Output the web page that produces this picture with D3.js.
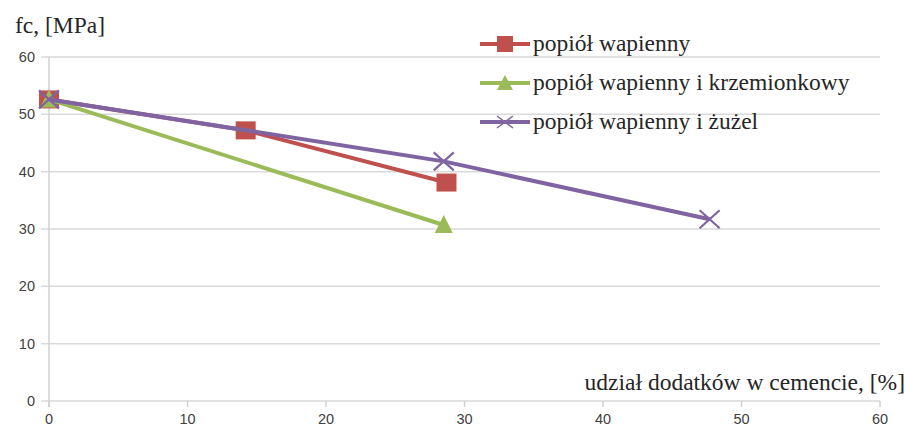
<!DOCTYPE html>
<html><head><meta charset="utf-8">
<script src="https://cdn.jsdelivr.net/npm/d3@7"></script>
<style>body{margin:0;background:#fff}svg{display:block}</style>
</head><body>
<svg id="c" width="905" height="427"></svg>
<script>
const xTicks = [0, 10, 20, 30, 40, 50, 60];
const yTicks = [0, 10, 20, 30, 40, 50, 60];
const seriesNames = ["popiół wapienny", "popiół wapienny i krzemionkowy", "popiół wapienny i żużel"];
const redX = [0, 14.2, 28.7];
const redY = [52.6, 47.2, 38.1];
const greenX = [0, 28.5];
const greenY = [52.6, 30.7];
const purpleX = [0, 28.5, 47.7];
const purpleY = [52.6, 41.8, 31.7];
const colors = ["#c0504d", "#9bbb59", "#8064a2"];
const markers = ["square", "triangle", "x"];

const svg = d3.select("#c");
const x = d3.scaleLinear().domain([0, 60]).range([49, 880]);
const y = d3.scaleLinear().domain([0, 60]).range([401, 57]);
const serif = "Liberation Serif, Times New Roman, serif";
const sans = "Liberation Sans, Arial, sans-serif";

svg.append("g").selectAll("line").data(yTicks).join("line")
  .attr("x1", 41).attr("x2", 880).attr("y1", d => y(d)).attr("y2", d => y(d))
  .attr("stroke", "#d9d9d9").attr("stroke-width", 1.5);
svg.append("line").attr("x1", x(0)).attr("x2", x(0)).attr("y1", y(60)).attr("y2", y(0) + 6)
  .attr("stroke", "#d0d0d0").attr("stroke-width", 1.5);
svg.append("g").selectAll("line").data(xTicks).join("line")
  .attr("x1", d => x(d)).attr("x2", d => x(d)).attr("y1", y(0)).attr("y2", y(0) + 6)
  .attr("stroke", "#d0d0d0").attr("stroke-width", 1.5);
svg.append("g").selectAll("text").data(yTicks).join("text")
  .attr("x", 35).attr("y", d => y(d) + 5).attr("text-anchor", "end")
  .attr("font-family", sans).attr("font-size", 14.5).attr("fill", "#404040")
  .text(d => d);
svg.append("g").selectAll("text").data(xTicks).join("text")
  .attr("x", d => x(d)).attr("y", 424).attr("text-anchor", "middle")
  .attr("font-family", sans).attr("font-size", 14.5).attr("fill", "#404040")
  .text(d => d);
svg.append("text").attr("x", 15).attr("y", 33).attr("font-family", serif)
  .attr("font-size", 23.5).attr("fill", "#262626").text("fc, [MPa]");
svg.append("text").attr("x", 905).attr("y", 390).attr("text-anchor", "end").attr("font-family", serif)
  .attr("font-size", 23.5).attr("fill", "#262626").text("udział dodatków w cemencie, [%]");

const data = [
  redX.map((v, i) => [v, redY[i]]),
  greenX.map((v, i) => [v, greenY[i]]),
  purpleX.map((v, i) => [v, purpleY[i]])
];
const line = d3.line().x(d => x(d[0])).y(d => y(d[1]));

function drawMarker(g, type, cx, cy, col) {
  if (type === "square") {
    g.append("rect").attr("x", cx - 10).attr("y", cy - 9).attr("width", 20).attr("height", 18).attr("fill", col);
  } else if (type === "triangle") {
    g.append("path").attr("d", `M${cx},${cy - 10}L${cx + 9},${cy + 8}L${cx - 9},${cy + 8}Z`).attr("fill", col);
  } else {
    g.append("path").attr("d", `M${cx - 10},${cy - 9}L${cx + 10},${cy + 9}M${cx + 10},${cy - 9}L${cx - 10},${cy + 9}`)
      .attr("stroke", col).attr("stroke-width", 2.2).attr("fill", "none");
  }
}

data.forEach((pts, i) => {
  const g = svg.append("g");
  g.append("path").datum(pts).attr("d", line).attr("fill", "none").attr("stroke", colors[i]).attr("stroke-width", 4);
  pts.forEach(p => drawMarker(g, markers[i], x(p[0]), y(p[1]), colors[i]));
});

const legY = [44, 83, 122];
seriesNames.forEach((name, i) => {
  const g = svg.append("g");
  g.append("line").attr("x1", 480).attr("x2", 530).attr("y1", legY[i]).attr("y2", legY[i])
    .attr("stroke", colors[i]).attr("stroke-width", 4);
  if (markers[i] === "square") {
    g.append("rect").attr("x", 497).attr("y", legY[i] - 8).attr("width", 16).attr("height", 16).attr("fill", colors[i]);
  } else if (markers[i] === "triangle") {
    g.append("path").attr("d", `M505,${legY[i] - 8}L513,${legY[i] + 7}L497,${legY[i] + 7}Z`).attr("fill", colors[i]);
  } else {
    g.append("path").attr("d", `M497,${legY[i] - 6}L513,${legY[i] + 6}M513,${legY[i] - 6}L497,${legY[i] + 6}`)
      .attr("stroke", colors[i]).attr("stroke-width", 1.5);
  }
  g.append("text").attr("x", 533).attr("y", legY[i] + 7).attr("font-family", serif)
    .attr("font-size", 23.5).attr("fill", "#262626").text(name);
});
</script>
</body></html>
